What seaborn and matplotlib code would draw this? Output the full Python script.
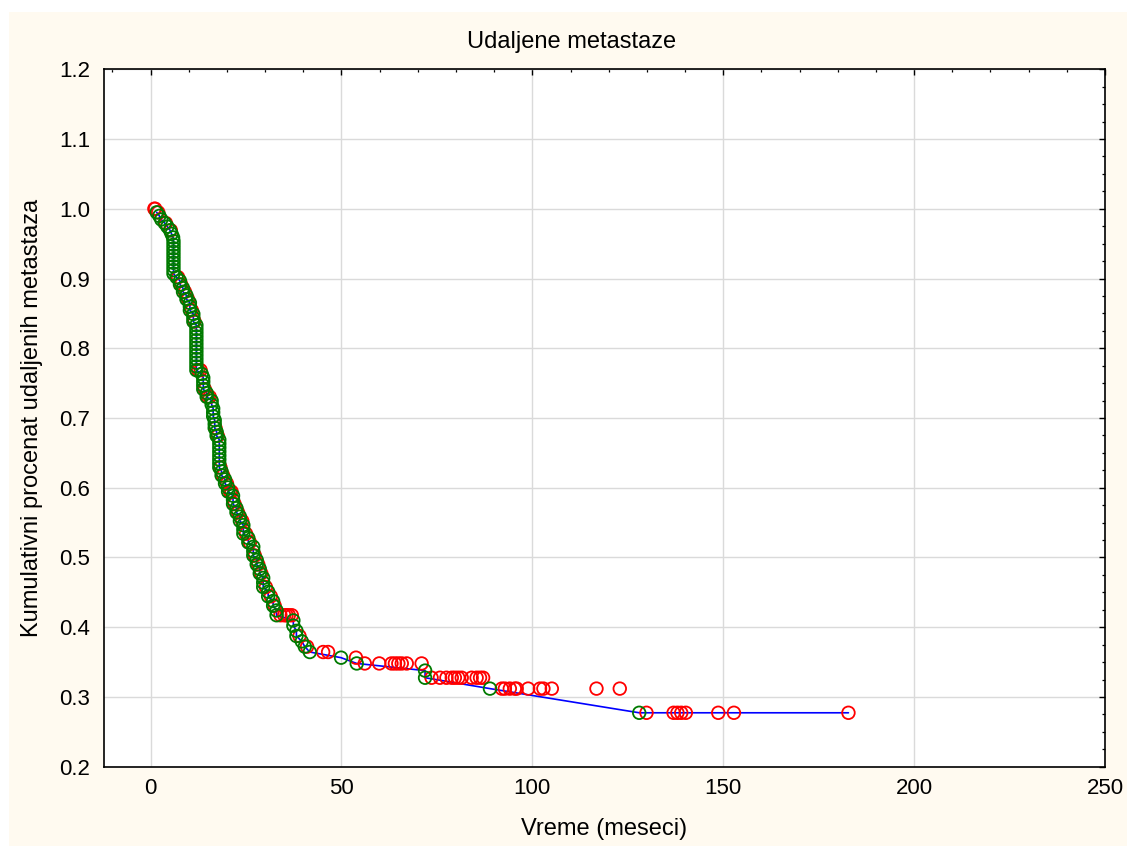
import numpy as np
import matplotlib
matplotlib.use("Agg")
import matplotlib.pyplot as plt
from matplotlib.patches import Rectangle
from matplotlib.ticker import MultipleLocator
import seaborn as sns

# Follow-up in months: times of distant metastasis (complete) with tie counts
event_times = [1.6, 2.3, 2.8, 3.7, 4.4, 5.1, 5.5, 5.9, 6.0, 6.8, 7.7, 8.5, 9.4,
               10.3, 11.2, 12.0, 13.4, 13.8, 14.7, 16.0, 16.4, 16.8, 17.3, 18.0,
               18.6, 19.5, 20.3, 21.6, 22.5, 23.4, 24.3, 25.6, 26.9, 27.8, 28.6,
               29.5, 30.8, 32.1, 33.0, 37.4, 38.2, 39.6, 40.4, 41.7, 49.9, 54.0,
               71.9, 88.9, 128.0]
event_counts = [1, 1, 1, 1, 1, 1, 1, 1, 10, 1, 2, 2, 2,
                3, 3, 13, 1, 4, 2, 2, 3, 3, 2, 8,
                2, 2, 2, 3, 2, 2, 3, 2, 3, 2, 2,
                3, 2, 2, 2, 2, 2, 1, 1, 1, 1, 1,
                2, 1, 1]

# Censored follow-up times (no metastasis at last contact)
censored_times = [1.0, 1.2, 2.0, 4.0, 5.3, 7.2, 8.0, 9.0, 9.8, 10.8, 11.5, 12.5,
                  13.1, 14.2, 15.0, 15.5, 17.0, 17.6, 18.3, 19.0, 20.0, 20.8,
                  21.2, 22.0, 22.9, 24.0, 25.0, 26.0, 27.3, 28.2, 29.0, 30.2,
                  31.5, 32.5, 34.0, 35.0, 35.6, 36.2, 37.0, 39.0, 41.0,
                  45.2, 46.5, 53.8, 56.1, 59.9, 63.1, 64.0, 64.9, 65.8, 67.1,
                  71.0, 73.6, 75.8, 77.5, 78.9, 79.7, 80.6, 81.5, 84.1, 85.4,
                  86.3, 87.1, 92.0, 92.8, 94.1, 95.4, 95.9, 98.9, 102.0, 102.9,
                  105.1, 116.8, 122.9, 129.9, 137.0, 138.0, 139.0, 140.2, 148.7,
                  152.8, 182.8]

title = "Udaljene metastaze"
x_label = "Vreme (meseci)"
y_label = "Kumulativni procenat udaljenih metastaza"

# Product-limit estimate, one point per observation (ties drawn as stacks)
times = np.concatenate([np.repeat(event_times, event_counts), censored_times])
is_event = np.concatenate([np.ones(int(np.sum(event_counts)), bool),
                           np.zeros(len(censored_times), bool)])
order = np.lexsort((~is_event, times))
times, is_event = times[order], is_event[order]

n_at_risk = len(times)
surv = 1.0
ev_t, ev_s, ce_t, ce_s = [], [], [], []
for t, ev in zip(times, is_event):
    if ev:
        surv *= (n_at_risk - 1) / n_at_risk
        ev_t.append(t)
        ev_s.append(surv)
    else:
        ce_t.append(t)
        ce_s.append(surv)
    n_at_risk -= 1

line_t = ev_t + [times[-1]]
line_s = ev_s + [surv]

sns.set_theme(style="white")
plt.rcParams["font.family"] = ["Liberation Sans", "DejaVu Sans"]

W, H = 1127, 846
fig = plt.figure(figsize=(W / 100, H / 100), dpi=100)
fig.patch.set_facecolor("white")
fig.patches.append(Rectangle((9 / W, 0), 1 - 9 / W, 1 - 12 / H,
                             transform=fig.transFigure, facecolor="#FFFAF0",
                             edgecolor="none", zorder=-10))

left, right, top, bottom = 104, 1105, 69.3, 766.7
ax = fig.add_axes([left / W, 1 - bottom / H, (right - left) / W, (bottom - top) / H])
ax.set_zorder(1)
ax.set_facecolor("white")

sns.lineplot(x=line_t, y=line_s, estimator=None, sort=False, color="#0000FF",
             linewidth=1.2, ax=ax, zorder=2)

marker_area = 82
marker_lw = 1.3

sns.scatterplot(x=ce_t, y=ce_s, marker="o", s=marker_area, ax=ax, zorder=3)
pts = ax.collections[-1]
pts.set_facecolor("none")
pts.set_edgecolor("#FF0000")
pts.set_linewidth(marker_lw)

sns.scatterplot(x=ev_t, y=ev_s, marker="o", s=marker_area, ax=ax, zorder=4)
pts = ax.collections[-1]
pts.set_facecolor("none")
pts.set_edgecolor("#007A00")
pts.set_linewidth(marker_lw)

ax.set_xlim(-12.2, 250)
ax.set_ylim(0.2, 1.2)
ax.xaxis.set_major_locator(MultipleLocator(50))
ax.xaxis.set_minor_locator(MultipleLocator(10))
ax.yaxis.set_major_locator(MultipleLocator(0.1))
ax.yaxis.set_minor_locator(MultipleLocator(0.025))
ax.set_yticks(np.round(np.arange(0.2, 1.21, 0.1), 1))
ax.set_yticklabels([f"{v:.1f}" for v in np.arange(0.2, 1.21, 0.1)])

ax.grid(True, which="major", color="#DADADA", linewidth=1.0)
ax.set_axisbelow(True)
for sp in ax.spines.values():
    sp.set_visible(True)
    sp.set_color("black")
    sp.set_linewidth(1.2)

ax.tick_params(which="both", direction="in", top=True, right=True,
               labeltop=False, labelright=False, colors="black")
ax.tick_params(which="major", length=4, width=1.0, labelsize=16)
ax.tick_params(axis="y", which="major", pad=10)
ax.tick_params(axis="x", which="major", pad=8)
ax.tick_params(which="minor", length=2.5, width=0.9)

ax.set_xlabel(x_label, fontsize=17, color="black")
ax.xaxis.set_label_coords(0.5, (bottom - 818) / (bottom - top))
ax.set_ylabel(y_label, fontsize=17, color="black")
ax.yaxis.set_label_coords((43 - left) / (right - left), 0.5)

fig.text(572 / W, 1 - 42 / H, title, ha="center", va="center",
         fontsize=17, color="black")

fig.savefig("out.png", dpi=100, facecolor=fig.get_facecolor())
